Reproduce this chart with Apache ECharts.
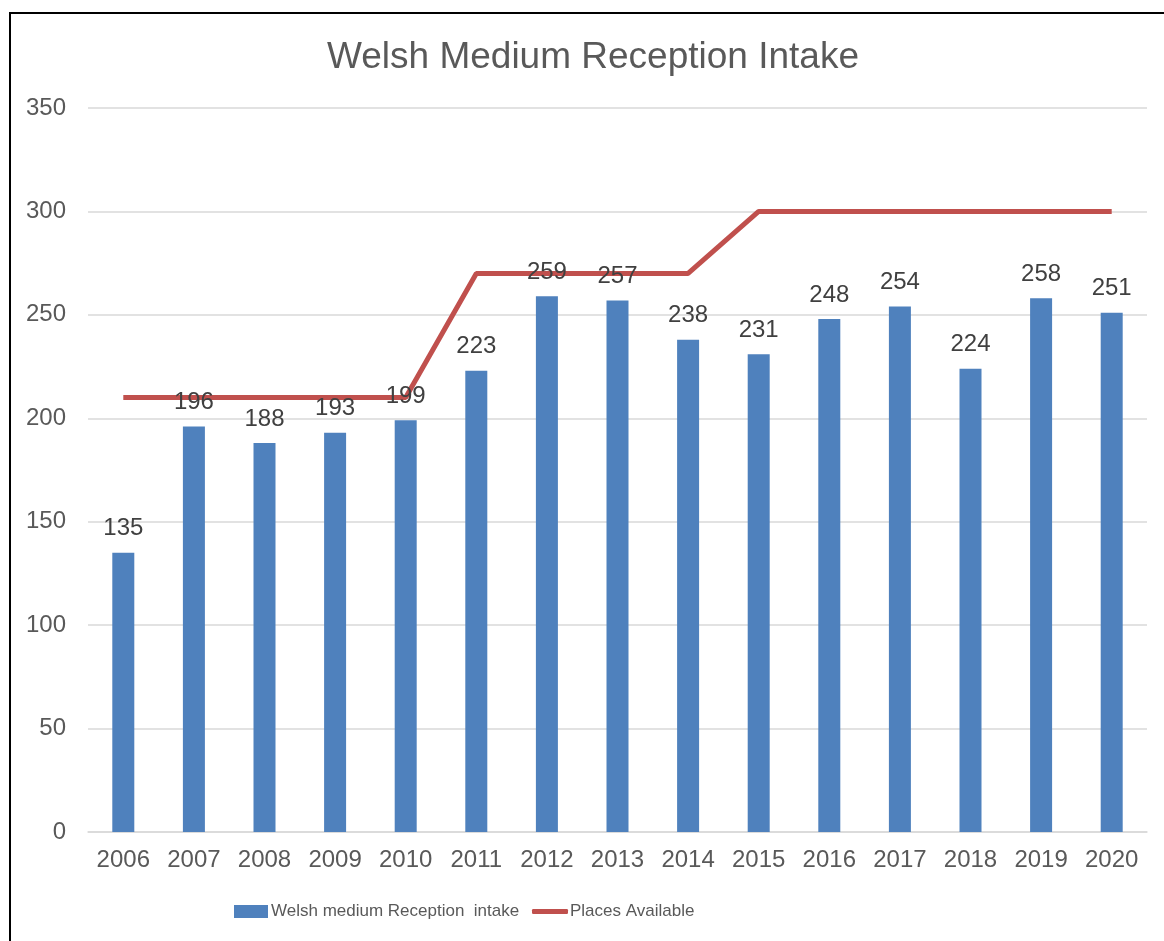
<!DOCTYPE html>
<html>
<head>
<meta charset="utf-8">
<script src="https://cdn.jsdelivr.net/npm/echarts@6/dist/echarts.min.js"></script>
<style>
  html, body { margin: 0; padding: 0; background: #fff; }
  #chart { width: 1164px; height: 941px; }
</style>
</head>
<body>
<div id="chart"></div>
<script>
const years = ['2006', '2007', '2008', '2009', '2010', '2011', '2012', '2013', '2014', '2015', '2016', '2017', '2018', '2019', '2020'];
const intake = [135, 196, 188, 193, 199, 223, 259, 257, 238, 231, 248, 254, 224, 258, 251];
const places = [210, 210, 210, 210, 210, 270, 270, 270, 270, 300, 300, 300, 300, 300, 300];
const yTicks = [0, 50, 100, 150, 200, 250, 300, 350];

const barName = 'Welsh medium Reception  intake';
const lineName = 'Places Available';
const font = '"Liberation Sans", Arial, sans-serif';

const chart = echarts.init(document.getElementById('chart'));

chart.setOption({
  animation: false,
  title: {
    text: 'Welsh Medium Reception Intake',
    left: 327,
    top: 39,
    padding: 0,
    textStyle: { color: '#595959', fontFamily: font, fontSize: 37, fontWeight: 'normal' },
  },
  graphic: [
    {
      type: 'rect',
      shape: { x: 10, y: 13, width: 1300, height: 1100 },
      style: { fill: 'none', stroke: '#000', lineWidth: 2 },
      silent: true,
    },
  ],
  legend: [
    {
      left: 234,
      top: 903,
      padding: 0,
      itemWidth: 34,
      itemHeight: 13,
      itemGap: 0,
      data: [{ name: barName, icon: 'rect' }],
      textStyle: { color: '#595959', fontFamily: font, fontSize: 17, padding: [0, 0, 0, -2] },
    },
    {
      left: 532,
      top: 903,
      padding: 0,
      itemWidth: 36,
      itemHeight: 5,
      data: [{ name: lineName, icon: 'roundRect' }],
      textStyle: { color: '#595959', fontFamily: font, fontSize: 17, padding: [0, 0, 0, -3] },
    },
  ],
  grid: { left: 88, right: 17, top: 108, bottom: 109 },
  xAxis: {
    type: 'category',
    data: years,
    axisTick: { show: false },
    axisLine: { lineStyle: { color: '#d9d9d9', width: 1.5 } },
    axisLabel: { color: '#595959', fontFamily: font, fontSize: 24, margin: 16 },
  },
  yAxis: {
    type: 'value',
    min: yTicks[0],
    max: yTicks[yTicks.length - 1],
    interval: 50,
    axisLine: { show: false },
    axisTick: { show: false },
    splitLine: { lineStyle: { color: '#d9d9d9', width: 1.5 } },
    axisLabel: { color: '#595959', fontFamily: font, fontSize: 24, margin: 22 },
  },
  series: [
    {
      name: barName,
      type: 'bar',
      data: intake,
      barWidth: 22,
      itemStyle: { color: '#4f81bd' },
      label: {
        show: true,
        position: 'top',
        distance: 12,
        color: '#404040',
        fontFamily: font,
        fontSize: 24,
      },
    },
    {
      name: lineName,
      type: 'line',
      data: places,
      symbol: 'none',
      z: 1,
      lineStyle: { color: '#c0504d', width: 5 },
      itemStyle: { color: '#c0504d' },
    },
  ],
});
</script>
</body>
</html>
